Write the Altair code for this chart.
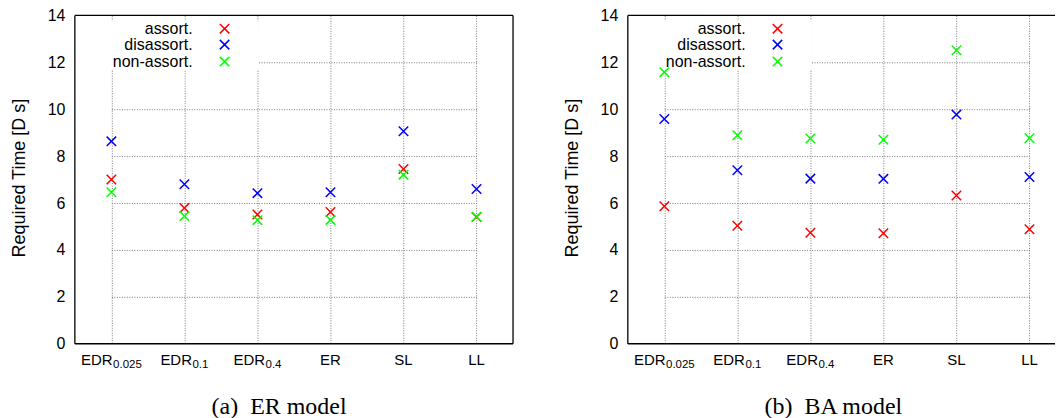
import altair as alt
import pandas as pd

# ---------------- data ----------------
categories = ["EDR0.025", "EDR0.1", "EDR0.4", "ER", "SL", "LL"]
label_base = ["EDR", "EDR", "EDR", "ER", "SL", "LL"]
label_sub = ["0.025", "0.1", "0.4", "", "", ""]
series = ["assort.", "disassort.", "non-assort."]
colors = ["#ff0000", "#0000ff", "#00ff00"]

er_assort = [7.00, 5.79, 5.51, 5.62, 7.45, 5.40]
er_disassort = [8.63, 6.80, 6.42, 6.46, 9.06, 6.60]
er_nonassort = [6.46, 5.45, 5.27, 5.28, 7.21, 5.41]

ba_assort = [5.86, 5.03, 4.73, 4.71, 6.32, 4.88]
ba_disassort = [9.58, 7.40, 7.04, 7.03, 9.77, 7.11]
ba_nonassort = [11.58, 8.89, 8.75, 8.70, 12.51, 8.76]

y_ticks = [0, 2, 4, 6, 8, 10, 12, 14]
y_limits = [0, 14]
captions = ["(a)\u00a0\u00a0ER model", "(b)\u00a0\u00a0BA model"]

# ---------------- layout ----------------
W_LEFT = 439
W_RIGHT = 428          # right panel runs to the page edge
STEP = W_LEFT / 6.0
X_RANGE = [STEP / 2, STEP / 2 + 5 * STEP]
H = 329
LEG_Y = [13.3, 29.3, 46.3]
SANS = "Liberation Sans"
SERIF = "Liberation Serif"
BASE_FS = 15
SUB_FS = 11.5
X_SHAPE = "M-1,-1L1,1M-1,1L1,-1"
GRID = dict(grid=True, gridColor="#7a7a7a", gridDash=[1, 1.5])
FRAME = "#000000"

# Arial-compatible advance widths (em) to centre label + subscript together
ADV = {"E": 0.667, "D": 0.722, "R": 0.722, "S": 0.667, "L": 0.556, ".": 0.278}
for d in "0123456789":
    ADV[d] = 0.556


def tw(s, size):
    return sum(ADV[c] for c in s) * size


lab_rows = []
for c, b, s in zip(categories, label_base, label_sub):
    bw = tw(b, BASE_FS)
    sw = tw(s, SUB_FS) if s else 0.0
    g = 0.5 if s else 0.0
    total = bw + g + sw
    base_right = -total / 2 + bw
    lab_rows.append({"category": c, "base": b, "sub": s,
                     "boff": base_right, "soff": base_right + g})
labels_df = pd.DataFrame(lab_rows)
legend_df = pd.DataFrame({"series": series})
hedge_df = pd.DataFrame({"yv": y_limits})
vedge_df = pd.DataFrame({"ya": [y_limits[0]], "yb": [y_limits[1]]})

color_scale = alt.Scale(domain=series, range=colors)
y_scale = alt.Scale(domain=y_limits, nice=False)


def panel(vals, caption, width, show_right_edge):
    rows = []
    for sname, v in zip(series, vals):
        for c, y in zip(categories, v):
            rows.append({"category": c, "series": sname, "value": y})
    df = pd.DataFrame(rows)

    x_scale = alt.Scale(type="point", domain=categories, range=X_RANGE, padding=0)
    x_enc = alt.X("category:N", sort=categories, scale=x_scale,
                  axis=alt.Axis(labels=False, ticks=False, title=None,
                                domain=False, **GRID))
    y_enc = alt.Y("value:Q", scale=y_scale,
                  axis=alt.Axis(values=y_ticks, ticks=False, domain=False,
                                labelFont=SANS, labelFontSize=16, labelColor="black",
                                labelPadding=10,
                                gridOpacity={"condition": {"test": "datum.value == 0 || datum.value == 14", "value": 0}, "value": 1},
                                title="Required Time [D s]", titleFont=SANS,
                                titleFontSize=18, titleFontWeight="normal",
                                titleColor="black", titleX=-50, titleY=H / 2 - 2,
                                titleBaseline="alphabetic", titleAngle=-90,
                                **GRID))

    layers = []
    box = alt.Chart(legend_df).mark_rect(color="white").encode(
        x=alt.value(6), x2=alt.value(184), y=alt.value(6), y2=alt.value(54))
    layers.append(box)

    pts = alt.Chart(df).mark_point(shape=X_SHAPE, size=90, strokeWidth=1.5,
                                   filled=False, opacity=1).encode(
        x=x_enc, y=y_enc,
        color=alt.Color("series:N", scale=color_scale, legend=None))
    layers.append(pts)

    for i, s in enumerate(series):
        layers.append(alt.Chart(legend_df).transform_filter(alt.datum.series == s)
                      .mark_text(align="right", baseline="alphabetic", dy=5, font=SANS,
                                 fontSize=16, color="black")
                      .encode(x=alt.value(118), y=alt.value(LEG_Y[i]), text="series:N"))
        layers.append(alt.Chart(legend_df).transform_filter(alt.datum.series == s)
                      .mark_point(shape=X_SHAPE, size=90, strokeWidth=1.5,
                                  filled=False, opacity=1)
                      .encode(x=alt.value(150), y=alt.value(LEG_Y[i]),
                              color=alt.Color("series:N", scale=color_scale, legend=None)))

    layers.append(alt.Chart(labels_df).mark_text(
        align="right", baseline="alphabetic", font=SANS, fontSize=BASE_FS,
        color="black").encode(
        x=alt.X("category:N", sort=categories, scale=x_scale, axis=None),
        xOffset=alt.XOffset("boff:Q", scale=None),
        y=alt.value(H + 21), text="base:N"))
    layers.append(alt.Chart(labels_df).mark_text(
        align="left", baseline="alphabetic", font=SANS, fontSize=SUB_FS,
        color="black").encode(
        x=alt.X("category:N", sort=categories, scale=x_scale, axis=None),
        xOffset=alt.XOffset("soff:Q", scale=None),
        y=alt.value(H + 24.5), text="sub:N"))

    # plot frame, driven by the y-scale limits
    layers.append(alt.Chart(hedge_df).mark_rule(color=FRAME, strokeWidth=1.3, opacity=1).encode(
        y=alt.Y("yv:Q", scale=y_scale, axis=None),
        x=alt.value(0), x2=alt.value(width)))
    layers.append(alt.Chart(vedge_df).mark_rule(color=FRAME, strokeWidth=1.3, opacity=1).encode(
        y=alt.Y("ya:Q", scale=y_scale, axis=None), y2="yb:Q",
        x=alt.value(0)))
    if show_right_edge:
        layers.append(alt.Chart(vedge_df).mark_rule(color=FRAME, strokeWidth=1.3, opacity=1).encode(
            y=alt.Y("ya:Q", scale=y_scale, axis=None), y2="yb:Q",
            x=alt.value(width)))

    layered = alt.layer(*layers).resolve_axis(x="independent", y="independent")
    return layered.properties(
        width=width, height=H,
        title=alt.TitleParams(caption, orient="bottom", frame="group", anchor="start",
                              font=SERIF, fontSize=24, fontWeight="normal",
                              color="black", dx=137, offset=43,
                              baseline="alphabetic"))


left = panel([er_assort, er_disassort, er_nonassort], captions[0], W_LEFT, True)
right = panel([ba_assort, ba_disassort, ba_nonassort], captions[1], W_RIGHT, False)

chart = alt.hconcat(left, right, spacing=115, bounds="flush").properties(
    padding={"left": 3, "top": -1, "right": 0, "bottom": 0},
    background="white",
).configure_view(stroke=None)

chart.save("out.html", embed_options={"renderer": "svg", "actions": False})
